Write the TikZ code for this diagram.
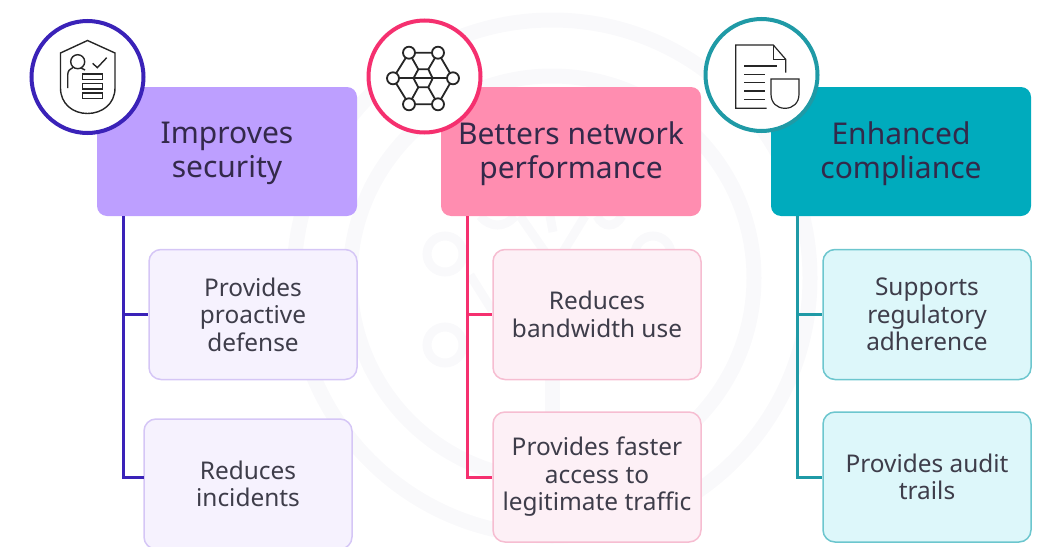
\documentclass[tikz,border=0pt]{standalone}
\usepackage{fontspec}
\setmainfont{Noto Sans}

\definecolor{secLine}{HTML}{3A22B8}
\definecolor{secTitle}{HTML}{BD9FFF}
\definecolor{secSub}{HTML}{F6F2FE}
\definecolor{secEdge}{HTML}{D5C6F6}
\definecolor{netLine}{HTML}{F5306F}
\definecolor{netTitle}{HTML}{FF8DB0}
\definecolor{netSub}{HTML}{FDF0F6}
\definecolor{netEdge}{HTML}{F6BDD1}
\definecolor{compLine}{HTML}{1F9AA6}
\definecolor{compTitle}{HTML}{00ABBD}
\definecolor{compSub}{HTML}{DDF7FA}
\definecolor{compEdge}{HTML}{6CC6CE}
\definecolor{ghostRing}{HTML}{F9F9FB}
\definecolor{titleText}{HTML}{33294A}
\definecolor{subText}{HTML}{3E3D4A}
\definecolor{iconLine}{HTML}{262626}

\def \trunkWidth {3pt}
\def \ringWidth {4pt}

\tikzset{
   titleBox/.style={rounded corners=10pt, minimum width=260pt, minimum height=129pt, inner sep=0pt},
   titleWords/.style={inner sep=0pt, align=center, text=titleText, yshift=-2pt, font=\fontsize{30}{34}\selectfont},
   subBox/.style={draw, line width=1.5pt, rounded corners=12pt, minimum width=208pt, minimum height=130pt,
      inner sep=0pt, align=center, text=subText, font=\fontsize{24.4}{27.5}\selectfont},
   iconRing/.style={circle, draw, fill=white, line width=\ringWidth, minimum size=112pt, inner sep=0pt},
   trunk/.style={line width=\trunkWidth},
   ghost/.style={draw=ghostRing, line width=15pt},
   ghostThin/.style={draw=ghostRing, line width=9pt},
}

\begin{document}
\begin{tikzpicture}[x=1pt, y=-1pt]
   \useasboundingbox (0,0) rectangle (1057,546);
   \clip (0,0) rectangle (1057,546);

   \draw[ghost] (552,278) circle (258);
   \draw[ghost] (552,278) circle (202);
   \draw[ghostThin] (445,254) circle (18);
   \draw[ghostThin] (445,345) circle (18);
   \draw[ghostThin] (653,254) circle (18);
   \draw[ghost] (552,360) -- (552,420);
   \draw[ghostThin] (480,216) .. controls (490,228) and (505,228) .. (515,216);
   \draw[ghostThin] (520,216) -- (545,252);
   \draw[ghostThin] (550,216) -- (553,232);
   \draw[ghostThin] (585,216) -- (563,252);
   \draw[ghostThin] (597,216) .. controls (603,228) and (615,228) .. (622,216);
   \draw[ghostThin] (470,275) -- (492,310);

   \coordinate (trunkSec) at (123,216);
   \coordinate (trunkNet) at (467.5,216);
   \coordinate (trunkComp) at (797,216);
   \coordinate (elbowSec) at (144,477);

   \node[titleBox, fill=secTitle] (titleSec) at (227,151.5) {};
   \node[titleBox, fill=netTitle] (titleNet) at (571,151.5) {};
   \node[titleBox, fill=compTitle] (titleComp) at (901,151.5) {};

   \node[subBox, draw=secEdge, fill=secSub] (secOne) at (253,314.5) {Provides\\proactive\\defense};
   \node[subBox, draw=secEdge, fill=secSub] (secTwo) at (248,484) {Reduces\\incidents};
   \node[subBox, draw=netEdge, fill=netSub] (netOne) at (597,314.5) {Reduces\\bandwidth use};
   \node[subBox, draw=netEdge, fill=netSub] (netTwo) at (597,477) {Provides faster\\access to\\legitimate traffic};
   \node[subBox, draw=compEdge, fill=compSub] (compOne) at (927,314.5) {Supports\\regulatory\\adherence};
   \node[subBox, draw=compEdge, fill=compSub] (compTwo) at (927,477) {Provides audit\\trails};

   \draw[trunk, secLine] (trunkSec) |- (secOne.west);
   \draw[trunk, secLine] (trunkSec) |- (elbowSec);
   \draw[trunk, netLine] (trunkNet) |- (netOne.west);
   \draw[trunk, netLine] (trunkNet) |- (netTwo.west);
   \draw[trunk, compLine] (trunkComp) |- (compOne.west);
   \draw[trunk, compLine] (trunkComp) |- (compTwo.west);

   \node[iconRing, draw=secLine] (ringSec) at (87.5,77) {};
   \node[iconRing, draw=netLine] (ringNet) at (424.5,76.5) {};
   \node[iconRing, draw=compLine] (ringComp) at (761.5,75) {};

   \node[titleWords] (wordsSec) at (titleSec) {Improves\\security};
   \node[titleWords] (wordsNet) at (titleNet) {Betters network\\performance};
   \node[titleWords] (wordsComp) at (titleComp) {Enhanced\\compliance};

   \begin{scope}[draw=iconLine, line width=1.4pt]
      \draw (60.5,53) -- (87.5,40.5) -- (115,53) -- (115,88)
         .. controls (115,104) and (102,113.5) .. (87.5,113.5)
         .. controls (73,113.5) and (60.5,104) .. (60.5,88) -- cycle;
      \draw (77.7,61.7) circle (7);
      \draw (67.7,88) -- (67.7,75) .. controls (67.7,71) and (70,68.5) .. (73,67.5);
      \draw (81,68) -- (85,70);
      \draw (92.7,63.3) -- (97.3,67.7) -- (106.7,57.7);
      \foreach \barY in {74,83.5,93}
         \draw (82.3,\barY) rectangle (102.3,\barY+5.5);
   \end{scope}

   \begin{scope}[draw=iconLine, line width=1.8pt]
      \draw (409,52.7) -- (438,52.7) -- (453,78.3) -- (438,104.3) -- (409,104.3) -- (393,78.3) -- cycle;
      \draw (393,78.3) -- (453,78.3);
      \draw (413.5,78.3) -- (418.3,69.3) -- (428.3,69.3) -- (432.7,78.3) -- (428.3,87.3) -- (418.3,87.3) -- cycle;
      \draw (409,52.7) -- (418.3,69.3);
      \draw (438,52.7) -- (428.3,69.3);
      \draw (409,104.3) -- (418.3,87.3);
      \draw (438,104.3) -- (428.3,87.3);
      \foreach \hubX/\hubY in {409/52.7, 438/52.7, 393/78.3, 453/78.3, 409/104.3, 438/104.3}
         \filldraw[fill=white] (\hubX,\hubY) circle (6);
   \end{scope}

   \begin{scope}[draw=iconLine, line width=1.2pt]
      \draw (785.7,72.7) -- (785.7,59.3) -- (773.3,45) -- (735.7,45) -- (735.7,108.3) -- (766.7,108.3);
      \draw (773.3,45) -- (773.3,59.3) -- (785.7,59.3);
      \draw (744.3,66) -- (777.3,66);
      \foreach \ruleY in {74.3,82.7,91,99.3}
         \draw (744.3,\ruleY) -- (765,\ruleY);
      \draw (771,79) -- (799,79) -- (799,94)
         .. controls (799,103) and (793,108.3) .. (785,108.3)
         .. controls (777,108.3) and (771,103) .. (771,94) -- cycle;
   \end{scope}
\end{tikzpicture}
\end{document}
